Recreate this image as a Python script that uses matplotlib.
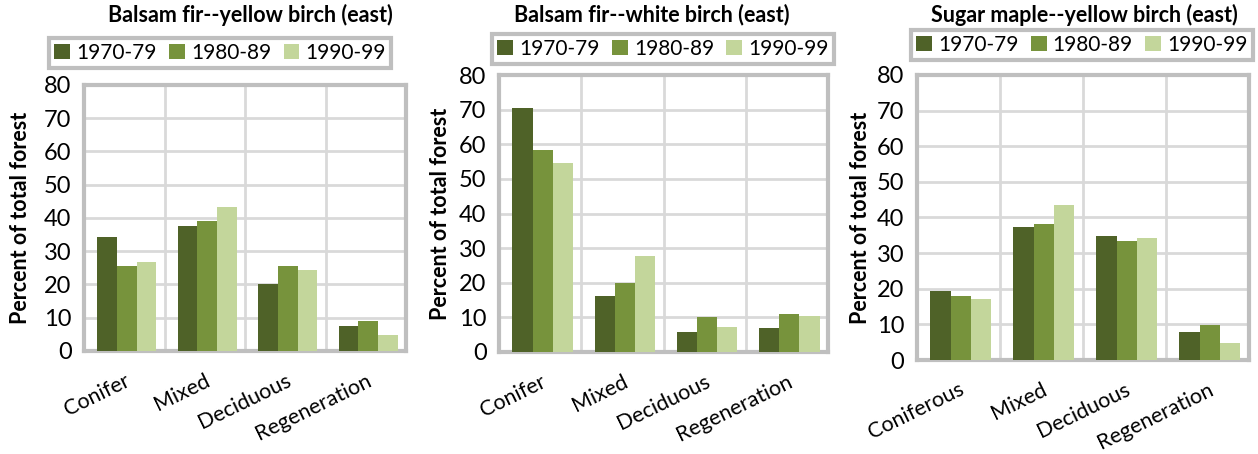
import matplotlib
matplotlib.use('Agg')
import matplotlib.pyplot as plt
import numpy as np

plt.rcParams['font.family'] = ['Lato', 'DejaVu Sans']

# data
periods = ['1970-79', '1980-89', '1990-99']
colors = ['#4F6228', '#77933C', '#C3D69B']

title1 = 'Balsam fir--yellow birch (east)'
cats1 = ['Conifer', 'Mixed', 'Deciduous', 'Regeneration']
p1_7079 = [34.4, 37.5, 20.0, 7.4]
p1_8089 = [25.7, 39.2, 25.6, 9.1]
p1_9099 = [26.9, 43.4, 24.3, 4.8]

title2 = 'Balsam fir--white birch (east)'
cats2 = ['Conifer', 'Mixed', 'Deciduous', 'Regeneration']
p2_7079 = [70.5, 16.1, 5.8, 6.9]
p2_8089 = [58.3, 20.0, 10.2, 11.1]
p2_9099 = [54.6, 27.6, 7.1, 10.3]

title3 = 'Sugar maple--yellow birch (east)'
cats3 = ['Coniferous', 'Mixed', 'Deciduous', 'Regeneration']
p3_7079 = [19.5, 37.2, 34.9, 7.9]
p3_8089 = [18.1, 38.3, 33.5, 9.7]
p3_9099 = [17.0, 43.6, 34.2, 4.7]

yticks = [0, 10, 20, 30, 40, 50, 60, 70, 80]

fig = plt.figure(figsize=(12.58, 4.54), dpi=100)

panels = [
    (title1, cats1, [p1_7079, p1_8089, p1_9099],
     [0.0668, 0.2269, 0.256, 0.586], (0.199, 0.967), (0.175, 0.883), 0.016),
    (title2, cats2, [p2_7079, p2_8089, p2_9099],
     [0.3967, 0.2247, 0.2615, 0.61], (0.518, 0.967), (0.527, 0.892), 0.350),
    (title3, cats3, [p3_7079, p3_8089, p3_9099],
     [0.7289, 0.207, 0.2639, 0.628], (0.862, 0.967), (0.860, 0.901), 0.684),
]

grid_col = '#D9D9D9'
frame_col = '#BFBFBF'
w = 0.245

for title, cats, series, pos, tpos, lpos, ylx in panels:
    ax = fig.add_axes(pos)
    x = np.arange(len(cats))
    bars = []
    for i, vals in enumerate(series):
        b = ax.bar(x + (i - 1) * w + 0.03, vals, width=w, color=colors[i],
                   zorder=3, label=periods[i])
        bars.append(b)
    ax.set_xlim(-0.5, len(cats) - 0.5)
    ax.set_ylim(0, 80)
    ax.set_yticks(yticks)
    ax.set_yticklabels([str(t) for t in yticks], fontsize=17)
    ax.set_xticks(x)
    ax.set_xticklabels(cats, rotation=26, ha='right', rotation_mode='anchor',
                       fontsize=15.5)
    ax.tick_params(axis='y', length=0, pad=9)
    ax.tick_params(axis='x', length=0, pad=14)
    ax.yaxis.grid(True, color=grid_col, lw=2, zorder=0)
    for xb in [0.5, 1.5, 2.5]:
        ax.axvline(xb, color=grid_col, lw=2, zorder=0)
    for s in ax.spines.values():
        s.set_color(frame_col)
        s.set_linewidth(3)
    fig.text(ylx, pos[1] + pos[3] / 2, 'Percent of total forest', rotation=90,
             ha='center', va='center', fontsize=15.5, fontweight='bold')
    fig.text(tpos[0], tpos[1], title, ha='center', va='center',
             fontsize=15.5, fontweight='bold')
    leg = fig.legend(handles=bars, labels=periods, loc='center',
                     bbox_to_anchor=lpos, ncol=3, fontsize=15,
                     handlelength=0.75, handleheight=0.75, handletextpad=0.3,
                     columnspacing=0.6, borderpad=0.25, fancybox=False,
                     edgecolor=frame_col, framealpha=1)
    leg.get_frame().set_linewidth(3)

fig.savefig('out.png', dpi=100)
